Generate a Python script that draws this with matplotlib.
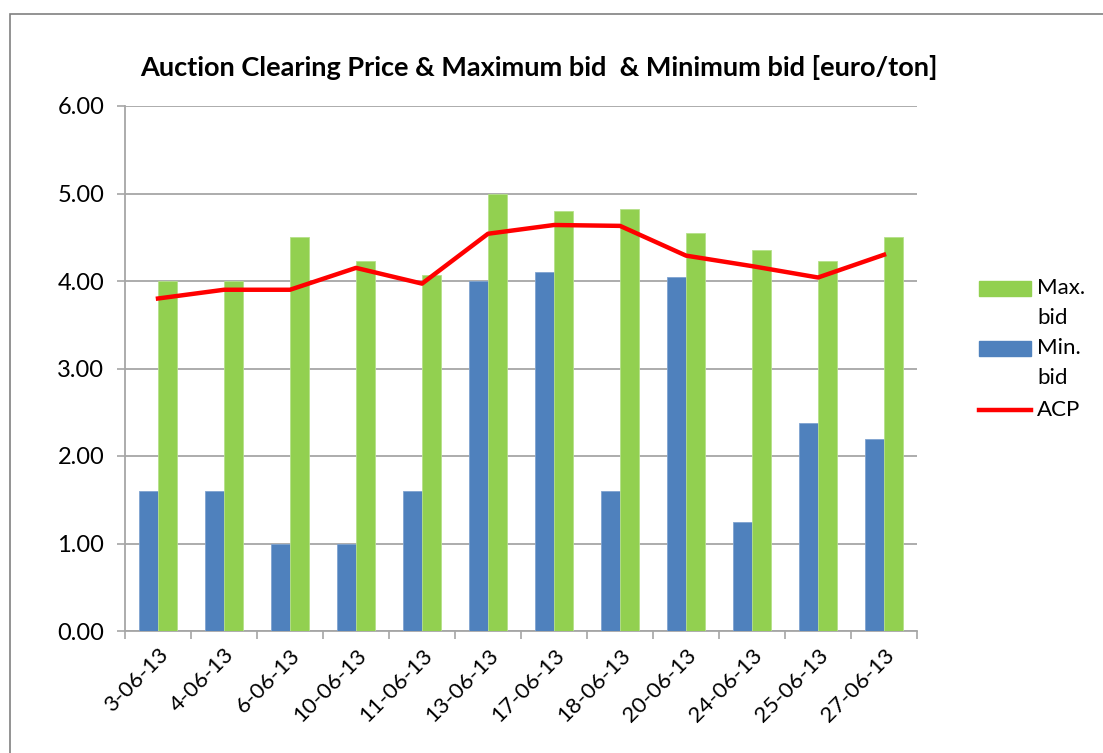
import matplotlib.pyplot as plt
import matplotlib.patches as mpatches
from matplotlib.lines import Line2D
import numpy as np

plt.rcParams['font.family'] = ['Lato', 'DejaVu Sans']

dates = ["3-06-13", "4-06-13", "6-06-13", "10-06-13", "11-06-13", "13-06-13",
         "17-06-13", "18-06-13", "20-06-13", "24-06-13", "25-06-13", "27-06-13"]
min_bid = [1.60, 1.60, 1.00, 1.00, 1.60, 4.00, 4.10, 1.60, 4.05, 1.25, 2.38, 2.20]
max_bid = [4.00, 4.00, 4.50, 4.23, 4.07, 5.00, 4.80, 4.82, 4.55, 4.35, 4.23, 4.50]
acp = [3.80, 3.90, 3.90, 4.15, 3.97, 4.54, 4.64, 4.63, 4.29, 4.17, 4.04, 4.30]

blue = '#4F81BD'
green = '#92D050'
red = '#FF0000'
grid_col = '#A6A6A6'


def fx(px):
    return px / 1103


def fy(py):
    return 1 - py / 753


fig = plt.figure(figsize=(11.03, 7.53), dpi=100)
# outer chart frame (cut off at right and bottom like the screenshot)
fig.patches.append(mpatches.Rectangle((fx(10), -0.1), 1.2, fy(14) + 0.1,
                                      transform=fig.transFigure, fill=False,
                                      edgecolor='#808080', linewidth=1.2))

ax = fig.add_axes([fx(125), fy(631), 792 / 1103, 525 / 753])

x = np.arange(len(dates))
w = 0.29
ax.bar(x - w / 2, min_bid, width=w, color=blue, edgecolor='#7FA3D0', linewidth=0.6, zorder=3)
ax.bar(x + w / 2, max_bid, width=w, color=green, edgecolor='#B5E08A', linewidth=0.6, zorder=3)
ax.plot(x, acp, color=red, linewidth=3.2, zorder=4, solid_joinstyle='round')

ax.set_xlim(-0.5, len(dates) - 0.5)
ax.set_ylim(0, 6)
yt = np.arange(0, 6.5, 1.0)
ax.set_yticks(yt)
ax.set_yticklabels([f"{v:.2f}" for v in yt], fontsize=17)
ax.yaxis.grid(True, color=grid_col, linewidth=1.3, zorder=0)
ax.set_axisbelow(True)

ax.set_xticks(x)
ax.set_xticklabels(dates, rotation=45, ha='right', rotation_mode='anchor', fontsize=16)
ax.tick_params(axis='x', which='major', length=0, pad=10)
ax.set_xticks(np.arange(-0.5, len(dates), 1.0), minor=True)
ax.tick_params(axis='x', which='minor', length=6, width=1.2, color=grid_col, direction='out')
ax.tick_params(axis='y', length=6, width=1.2, color=grid_col, pad=9)

for s in ['top', 'right']:
    ax.spines[s].set_visible(False)
for s in ['left', 'bottom']:
    ax.spines[s].set_color(grid_col)
    ax.spines[s].set_linewidth(1.3)

fig.text(fx(539), fy(67), "Auction Clearing Price & Maximum bid  & Minimum bid [euro/ton]",
         ha='center', va='center', fontsize=19.5, fontweight='bold')

# legend built by hand so the key sits on the first line of each label
fig.patches.append(mpatches.Rectangle((fx(979), fy(296)), fx(52), 15 / 753,
                                      transform=fig.transFigure, color=green))
fig.patches.append(mpatches.Rectangle((fx(979), fy(356)), fx(52), 15 / 753,
                                      transform=fig.transFigure, color=blue))
fig.lines.append(Line2D([fx(979), fx(1031)], [fy(410), fy(410)],
                        transform=fig.transFigure, color=red, linewidth=3.2))
for lab, yy in [("Max.", 288), ("bid", 318), ("Min.", 348), ("bid", 378), ("ACP", 410)]:
    fig.text(fx(1037), fy(yy), lab, ha='left', va='center', fontsize=16)

fig.savefig("out.png", dpi=100)
